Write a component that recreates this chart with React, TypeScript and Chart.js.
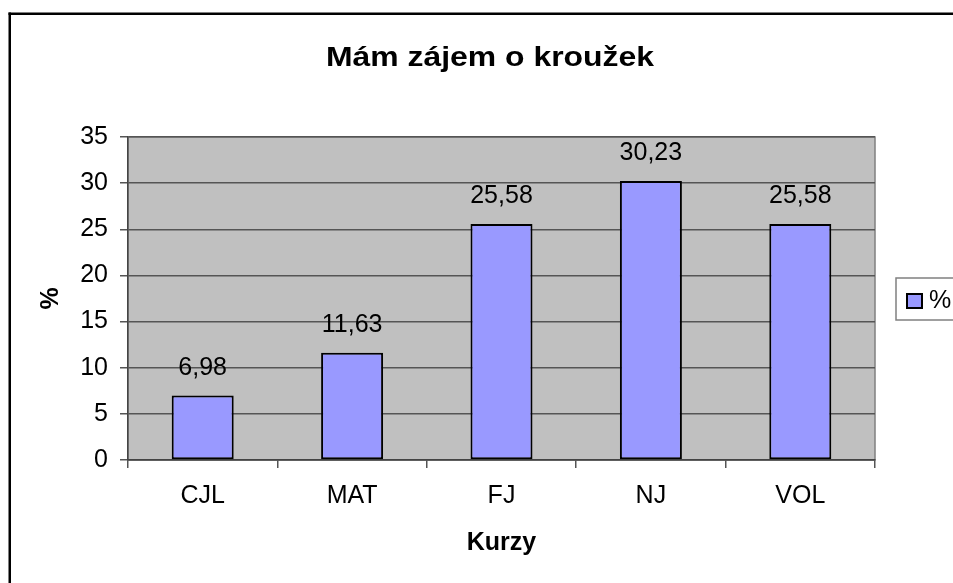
import React, { useEffect, useRef } from "react";
import { Chart, registerables } from "chart.js";

Chart.register(...registerables);

const categories = ["CJL", "MAT", "FJ", "NJ", "VOL"];
const values = [6.98, 11.63, 25.58, 30.23, 25.58];
const seriesLabel = "%";
const titleText = "Mám zájem o kroužek";
const xTitle = "Kurzy";
const yTitle = "%";

const FONT = "'Liberation Sans', Arial, sans-serif";

const decorPlugin = {
  id: "decor",
  beforeDraw(chart: any) {
    const { ctx, chartArea: a } = chart;
    ctx.save();
    ctx.fillStyle = "#ffffff";
    ctx.fillRect(0, 0, chart.width, chart.height);
    // outer chart border (top + left visible)
    ctx.fillStyle = "#000000";
    ctx.fillRect(8.5, 12.5, chart.width, 2.5);
    ctx.fillRect(8.5, 12.5, 2.5, chart.height);
    // plot area
    ctx.fillStyle = "#C0C0C0";
    ctx.fillRect(a.left, a.top, a.right - a.left, a.bottom - a.top);
    ctx.strokeStyle = "#808080";
    ctx.lineWidth = 1.5;
    ctx.strokeRect(a.left, a.top, a.right - a.left, a.bottom - a.top);
    // title (wide bold face, stretched horizontally like the reference)
    ctx.fillStyle = "#000000";
    ctx.font = `bold 27px ${FONT}`;
    ctx.textAlign = "center";
    ctx.textBaseline = "alphabetic";
    const w = ctx.measureText(titleText).width;
    const sx = 328 / w;
    ctx.translate(490, 66);
    ctx.scale(sx, 1);
    ctx.fillText(titleText, 0, 0);
    ctx.restore();
  },
  afterDatasetsDraw(chart: any) {
    const { ctx } = chart;
    const meta = chart.getDatasetMeta(0);
    ctx.save();
    ctx.fillStyle = "#000000";
    ctx.font = `25px ${FONT}`;
    ctx.textAlign = "center";
    ctx.textBaseline = "alphabetic";
    meta.data.forEach((bar: any, i: number) => {
      const txt = values[i].toFixed(2).replace(".", ",");
      ctx.fillText(txt, bar.x, bar.y - 21);
    });
    // legend
    ctx.strokeStyle = "#808080";
    ctx.lineWidth = 1.5;
    ctx.strokeRect(896, 278, 120, 42);
    ctx.fillStyle = "#9999FF";
    ctx.fillRect(907, 294, 15, 14);
    ctx.strokeStyle = "#000000";
    ctx.lineWidth = 2;
    ctx.strokeRect(907, 294, 15, 14);
    ctx.fillStyle = "#000000";
    ctx.textAlign = "left";
    ctx.textBaseline = "middle";
    ctx.fillText(seriesLabel, 929, 301);
    ctx.restore();
  },
};

export default function App() {
  const ref = useRef<HTMLCanvasElement>(null);
  useEffect(() => {
    if (!ref.current) return;
    const chart = new Chart(ref.current, {
      type: "bar",
      data: {
        labels: categories,
        datasets: [
          {
            label: seriesLabel,
            data: values,
            backgroundColor: "#9999FF",
            borderColor: "#000000",
            borderWidth: 2,
            borderSkipped: false,
            categoryPercentage: 1,
            barPercentage: 0.415,
          },
        ],
      },
      options: {
        animation: false,
        responsive: false,
        devicePixelRatio: 1,
        layout: { padding: { top: 137, right: 78, bottom: 0, left: 0 } },
        plugins: {
          legend: { display: false },
          title: { display: false },
          tooltip: { enabled: false },
        },
        scales: {
          x: {
            offset: true,
            grid: {
              offset: true,
              drawOnChartArea: false,
              drawTicks: true,
              tickLength: 8,
              color: "#555555",
              lineWidth: 1.5,
            },
            border: { color: "#444444", width: 1.5 },
            ticks: { color: "#000000", font: { family: FONT, size: 25 }, padding: 13 },
            title: {
              display: true,
              text: xTitle,
              color: "#000000",
              font: { family: FONT, size: 25, weight: "bold" },
              padding: { top: 0, bottom: 25 },
            },
            afterFit: (s: any) => {
              s.height = 123;
            },
          },
          y: {
            min: 0,
            max: 35,
            ticks: {
              stepSize: 5,
              color: "#000000",
              font: { family: FONT, size: 25 },
              padding: 12,
            },
            grid: { color: "#555555", lineWidth: 1.5, tickLength: 8, drawTicks: true },
            border: { color: "#444444", width: 1.5 },
            title: {
              display: true,
              text: yTitle,
              color: "#000000",
              font: { family: FONT, size: 25, weight: "bold" },
              padding: { top: 36, bottom: 0 },
            },
            afterFit: (s: any) => {
              s.width = 128;
            },
          },
        },
      },
      plugins: [decorPlugin],
    });
    return () => chart.destroy();
  }, []);
  return (
    <div style={{ position: "absolute", left: 0, top: 0, width: 953, height: 583 }}>
      <canvas ref={ref} width={953} height={583} />
    </div>
  );
}
